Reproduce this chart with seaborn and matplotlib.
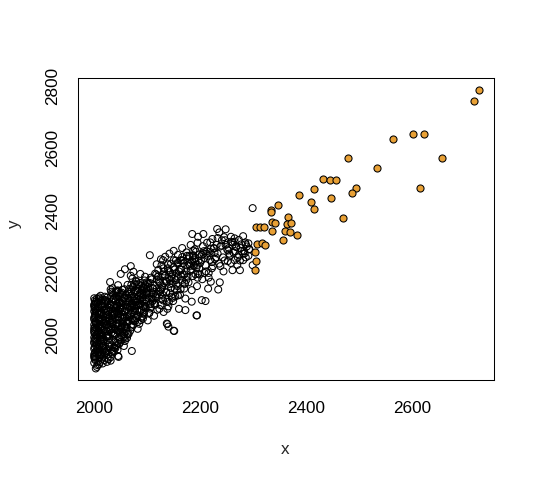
import matplotlib
matplotlib.use("Agg")
import matplotlib.pyplot as plt
import seaborn as sns
import pandas as pd

# ---- data ----
black_x = [
    # left edge
    2000,2001,2000,2002,2000,2003,2000,2001,2000,2004,
    2000,2002,2001,2000,2003,2000,2001,2002,2000,2001,
    2000,2003,2001,2000,2002,2000,2004,2001,2000,2002,
    2001,2000,2003,2000,2002,2001,2000,2003,2001,2000,
    # 2005-2030
    2006,2008,2010,2012,2007,2015,2009,2013,2018,2011,
    2006,2020,2014,2009,2017,2022,2008,2025,2012,2019,
    2007,2016,2023,2010,2027,2013,2021,2006,2018,2029,
    2011,2024,2015,2008,2026,2019,2012,2028,2017,2009,
    2022,2014,2030,2007,2020,2025,2011,2016,2027,2013,
    2018,2023,2010,2029,2015,2006,2021,2026,2012,2019,
    2024,2008,2017,2028,2014,2022,2009,2025,2016,2020,
    # 2030-2060
    2031,2034,2037,2040,2033,2043,2036,2046,2039,2049,
    2032,2052,2042,2035,2055,2045,2038,2058,2048,2033,
    2051,2041,2056,2036,2044,2053,2031,2047,2059,2039,
    2050,2034,2057,2043,2037,2054,2046,2032,2060,2040,
    2035,2049,2042,2056,2038,2052,2045,2033,2058,2047,
    2041,2036,2055,2044,2050,2034,2057,2039,2053,2048,
    2031,2046,2059,2037,2043,2051,2035,2054,2040,2056,
    # 2060-2100
    2062,2065,2068,2071,2074,2077,2080,2083,2086,2089,
    2092,2095,2098,2063,2066,2069,2072,2075,2078,2081,
    2084,2087,2090,2093,2096,2099,2064,2067,2070,2073,
    2076,2079,2082,2085,2088,2091,2094,2097,2061,2068,
    2074,2080,2086,2092,2098,2065,2071,2077,2083,2089,
    2095,2063,2069,2075,2081,2087,2093,2099,2072,2084,
    # 2100-2160
    2101,2104,2107,2110,2113,2116,2119,2122,2125,2128,
    2131,2134,2137,2140,2143,2146,2149,2152,2155,2158,
    2102,2106,2109,2112,2115,2118,2121,2124,2127,2130,
    2133,2136,2139,2142,2145,2148,2151,2154,2157,2160,
    2103,2108,2114,2120,2126,2132,2138,2144,2150,2156,
    2105,2111,2117,2123,2129,2135,2141,2147,2153,2159,
    # 2160-2230
    2162,2166,2170,2174,2178,2182,2186,2190,2194,2198,
    2202,2206,2210,2214,2218,2222,2226,2230,2164,2168,
    2172,2176,2180,2184,2188,2192,2196,2200,2204,2208,
    2212,2216,2220,2224,2228,2163,2171,2179,2187,2195,
    2203,2211,2219,2227,2167,2175,2183,2191,2199,2207,
    # 2230-2300
    2233,2238,2243,2248,2253,2258,2263,2268,2273,2278,
    2283,2288,2293,2236,2241,2246,2251,2256,2261,2266,
    2271,2276,2281,2286,2291,2245,2255,2265,2275,2285,
    # scattered points
    2105,2050,2058,2069,2069,2087,2074,2030,2031,2045,
    2185,2196,2206,2195,2213,2232,2248,2236,2223,2231,
    2258,2265,2281,2273,2291,2299,2299,2275,2261,2265,
    2281,2193,2203,2210,2184,2172,2160,2151,2138,2140,
    2220,2237,2215,2234,2071,2056,2045,2031,2009,2003,
    2005,2046,2150,2137,2194,2130,2165,2187,2292,2284,
]
black_y = [
    1912,1925,1938,1946,1957,1968,1975,1984,1993,2001,
    2010,2018,2026,2034,2043,2051,2060,2068,2077,2085,
    2094,2103,2112,2119,1921,1931,1950,1962,1979,1990,
    2005,2022,2039,2056,2072,2089,2098,2108,1942,2015,
    1905,1918,1930,1944,1955,1962,1971,1980,1988,1996,
    2003,2012,2020,2031,2040,2048,2057,2065,2074,2083,
    2091,2100,2109,2118,1924,1936,1949,1958,1967,1977,
    1986,1994,2007,2016,2025,2036,2044,2053,2062,2070,
    2079,2088,2097,2106,2114,1928,1940,1952,1965,1974,
    1983,1999,2009,2019,2028,2038,2047,2058,2067,2081,
    1915,1946,1960,1991,2002,2033,2050,2076,2093,2124,
    1930,1941,1950,1959,1968,1976,1985,1993,2002,2010,
    2019,2027,2036,2044,2053,2061,2070,2078,2087,2095,
    2104,2113,2121,2130,2138,2146,1955,1972,1990,2007,
    2024,2041,2058,2075,2092,2109,2126,2140,2015,2034,
    2065,2083,2100,2118,1962,1998,2031,2049,1982,2069,
    2088,2116,2045,2072,2132,1946,1994,2056,2081,2107,
    2123,2013,2029,2066,2143,2097,2151,2038,1979,2004,
    1992,2005,2015,2026,2034,2046,2055,2064,2075,2082,
    2093,2102,2115,2043,2058,2072,2081,2094,2106,2118,
    2127,2135,2146,2154,2163,2170,2120,2133,2141,2155,
    2166,2175,2021,2037,2049,2061,2070,2087,2024,2090,
    2111,2143,2100,2122,2138,2139,2052,2085,2097,2158,
    2176,2004,2031,2067,2079,2115,2131,2150,2182,2163,
    2048,2072,2090,2110,2063,2125,2082,2140,2097,2160,
    2075,2118,2172,2093,2135,2188,2110,2150,2200,2128,
    2155,2100,2180,2134,2198,2150,2210,2168,2225,2112,
    2190,2140,2215,2165,2230,2120,2182,2240,2158,2205,
    2120,2136,2102,2188,2148,2205,2085,2178,2218,2145,
    2168,2150,2195,2085,2130,2174,2108,2195,2125,2232,
    2130,2178,2150,2205,2170,2232,2190,2248,2158,2215,
    2240,2262,2225,2255,2268,2235,2280,2250,2210,2240,
    2118,2188,2252,2145,2222,2268,2198,2232,2180,2248,
    2262,2200,2278,2222,2245,2240,2165,2228,2272,2185,
    2258,2205,2242,2265,2195,2255,2212,2236,2195,2270,
    2262,2285,2250,2290,2272,2300,2265,2283,2258,2292,
    2270,2285,2276,2230,2305,2240,2275,2255,2290,2270,
    2250,2280,2262,2292,2255,2315,2262,2300,2240,2298,
    2257,2197,2212,2222,2191,2197,2204,2171,2147,2161,
    2325,2316,2325,2297,2297,2341,2340,2330,2309,2290,
    2316,2311,2318,2306,2295,2408,2225,2209,2209,2241,
    2241,2064,2113,2110,2108,2081,2085,2014,2036,2028,
    2172,2170,2150,2147,1950,1966,1934,1919,1907,1894,
    1899,1931,2015,2038,2064,2241,2241,2257,2276,2263,
]
# additional points filling the dense lower-left core and the diagonal band
core_x = [
    2003,2017,2009,2026,2001,2013,2021,2006,2029,2011,
    2024,2002,2015,2008,2027,2019,2004,2012,2023,2010,
    2028,2005,2016,2020,2001,2014,2025,2007,2018,2022,
    2003,2011,2026,2009,2019,2013,2002,2028,2016,2006,
    2021,2012,2004,2024,2017,2008,2029,2014,2001,2020,
    2010,2027,2005,2018,2023,2007,2015,2025,2002,2012,
    2048,2033,2061,2041,2055,2036,2064,2044,2031,2058,
    2039,2052,2034,2062,2046,2057,2038,2050,2032,2060,
    2043,2054,2037,2065,2049,2035,2059,2042,2053,2031,
    2063,2045,2056,2040,2034,2051,2062,2047,2038,2057,
    2044,2033,2060,2036,2049,2055,2041,2064,2032,2053,
    2046,2058,2039,2061,2035,2050,2043,2063,2037,2054,
]
core_y = [
    2037,1967,2112,1998,1934,2071,1943,2086,2049,1914,
    2121,2063,1989,2027,1941,2103,1978,2055,2014,1965,
    2089,2118,1910,2041,2101,2097,2032,1947,2069,1957,
    2081,2035,2109,2122,1921,2005,2045,1964,2115,1973,
    2072,1936,2025,1952,2052,2093,2016,1995,1929,2110,
    2052,2003,2073,1939,2086,2011,1925,2045,1988,2127,
    1987,2063,2026,2141,2092,2005,2118,1953,2098,2059,
    2022,2137,1951,2084,2115,2030,2074,1979,2008,2131,
    2094,2012,2119,2047,2057,2079,2108,1969,2066,2041,
    2003,2144,2077,2088,2135,2020,2060,2102,1961,2148,
    2037,2108,2098,2023,2136,1996,2127,2091,2083,2054,
    2048,2121,2070,2041,2036,2087,2016,2162,1999,2110,
]
band_x = [
    2078,2067,2094,2085,2071,2102,2089,2075,2108,2082,
    2097,2069,2091,2080,2105,2073,2087,2099,2066,2093,
    2084,2110,2076,2096,2070,2088,2104,2081,2068,2100,
    2090,2077,2107,2083,2072,2095,2086,2109,2074,2098,
    2079,2092,2066,2103,2088,2071,2097,2082,2106,2075,
    2128,2115,2152,2141,2119,2176,2163,2134,2188,2147,
    2122,2170,2157,2137,2195,2113,2182,2145,2166,2129,
    2154,2117,2191,2139,2174,2125,2161,2150,2198,2132,
    2168,2143,2185,2112,2158,2179,2136,2193,2121,2171,
    2148,2186,2127,2164,2140,2197,2155,2118,2181,2131,
    2118,2126,2134,2142,2150,2158,2166,2174,2182,2190,
    2205,2212,2219,2226,2233,2240,2247,2254,2261,2268,
    2208,2222,2238,2252,2270,2286,2216,2244,2258,2278,
]
band_y = [
    2096,2065,2148,2125,2101,2167,2057,2140,2118,2043,
    2091,2127,2110,2162,2086,2052,2168,2131,2149,2073,
    2098,2152,2113,2188,2162,2128,2072,2109,2094,2143,
    2137,2078,2185,2150,2119,2095,2081,2124,2047,2107,
    2172,2054,2110,2134,2101,2090,2160,2138,2102,2125,
    2154,2098,2211,2183,2133,2224,2148,2192,2243,2124,
    2172,2195,2232,2108,2226,2161,2207,2152,2251,2196,
    2177,2121,2196,2228,2178,2143,2213,2241,2259,2168,
    2232,2203,2238,2114,2188,2255,2137,2217,2189,2167,
    2166,2254,2117,2189,2208,2240,2163,2179,2223,2215,
    2228,2244,2252,2262,2271,2258,2280,2266,2290,2276,
    2286,2270,2298,2278,2312,2288,2305,2280,2298,2285,
    2200,2215,2222,2238,2226,2250,2185,2205,2232,2270,
]
orange_x = [2726,2717,2602,2623,2564,2479,2657,2534,2432,2445,
            2457,2414,2494,2487,2614,2386,2409,2447,2415,2347,
            2333,2333,2470,2366,2364,2372,2335,2342,2335,2360,
            2369,2382,2357,2305,2313,2321,2307,2316,2323,2304,
            2305,2304]
orange_y = [2788,2750,2647,2645,2628,2570,2570,2538,2500,2498,
            2498,2469,2472,2455,2472,2449,2427,2440,2405,2418,
            2402,2395,2376,2379,2358,2360,2362,2359,2333,2333,
            2331,2322,2306,2346,2346,2346,2294,2297,2291,2267,
            2240,2209]
x_ticks = [2000, 2200, 2400, 2600]
y_ticks = [2000, 2200, 2400, 2600, 2800]

black_df = pd.DataFrame({"x": black_x + core_x + band_x,
                         "y": black_y + core_y + band_y})
orange_df = pd.DataFrame({"x": orange_x, "y": orange_y})

sns.set_style("white")
plt.rcParams["font.family"] = ["Liberation Sans", "DejaVu Sans"]

fig = plt.figure(figsize=(5.35, 4.78), dpi=100)
ax = fig.add_axes([78.3 / 535, 1 - 380 / 478, (494.3 - 78.3) / 535, (380 - 78.3) / 478])

sns.scatterplot(data=black_df, x="x", y="y", ax=ax, marker="o", s=25,
                facecolors="none", edgecolors="black", linewidth=0.75)
sns.scatterplot(data=orange_df, x="x", y="y", ax=ax, marker="o", s=26,
                color="#E8A035", edgecolor="black", linewidth=0.75, zorder=3)

ax.set_xlim(1970, 2755)
ax.set_ylim(1857, 2824)
ax.set_xticks(x_ticks)
ax.set_yticks(y_ticks)
ax.set_xticklabels([str(t) for t in x_ticks])
ax.set_yticklabels([str(t) for t in y_ticks], rotation=90, va="center")
ax.tick_params(axis="both", direction="out", length=6.5, width=0.75,
               labelsize=12.3, colors="black", pad=6.5)
ax.tick_params(axis="x", pad=8.5)
for sp in ax.spines.values():
    sp.set_visible(True)
    sp.set_color("black")
    sp.set_linewidth(0.75)
ax.set_xlabel("x", fontsize=12.3)
ax.set_ylabel("y", fontsize=12.3)
ax.xaxis.set_label_coords((285 - 78.3) / (494.3 - 78.3), -(450 - 380) / (380 - 78.3))
ax.yaxis.set_label_coords(-(78.3 - 15) / (494.3 - 78.3), (380 - 225) / (380 - 78.3))
ax.xaxis.label.set_va("center")
ax.yaxis.label.set_va("center")
ax.grid(False)

fig.savefig("out.png", dpi=100)
